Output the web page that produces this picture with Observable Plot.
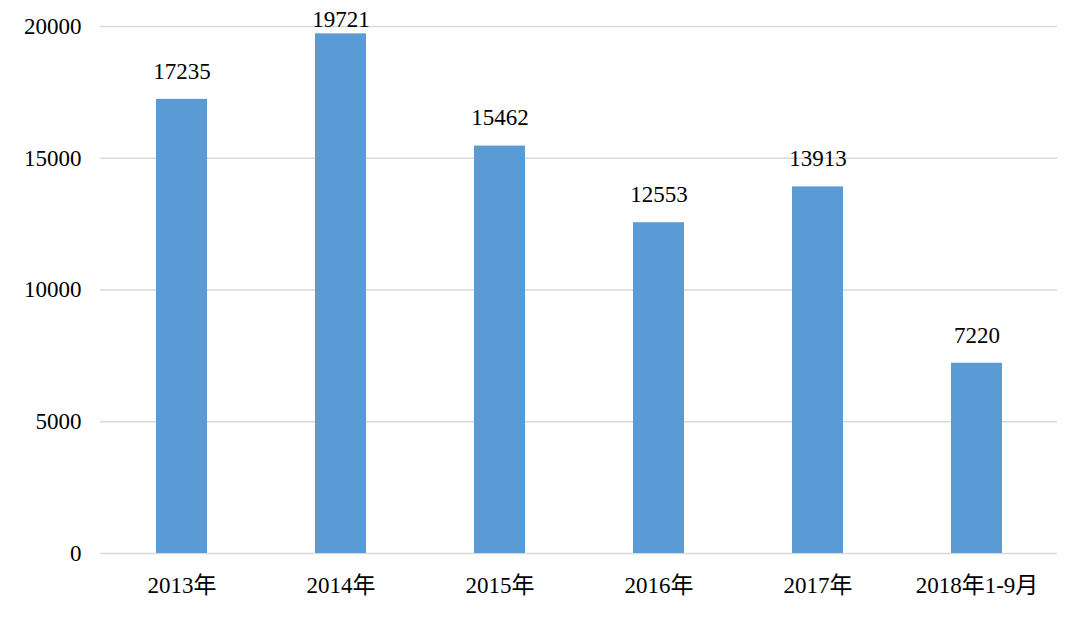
<!DOCTYPE html>
<html>
<head>
<meta charset="utf-8">
<script src="https://cdn.jsdelivr.net/npm/d3@7"></script>
<script src="https://cdn.jsdelivr.net/npm/@observablehq/plot@0.6"></script>
<style>
  html, body { margin: 0; padding: 0; background: #fff; }
  #chart { width: 1080px; height: 617px; }
  #chart svg, #chart svg text { font-family: "Liberation Serif", "Noto Sans CJK SC", serif !important; }
</style>
</head>
<body>
<div id="chart"></div>
<script>
const categories = ["2013年", "2014年", "2015年", "2016年", "2017年", "2018年1-9月"];
const values = [17235, 19721, 15462, 12553, 13913, 7220];
const yTicks = [0, 5000, 10000, 15000, 20000];
const yMax = 20000;

const data = categories.map((c, i) => ({category: c, value: values[i]}));
const font = "Liberation Serif";
const fs = 23;
// labels that would overflow the top of the plot area are pulled down inside it
const isNearTop = d => d.value > yMax * 0.97;

const chart = Plot.plot({
  width: 1080,
  height: 617,
  marginTop: 26,
  marginBottom: 64,
  marginLeft: 100,
  marginRight: 23,
  style: {fontFamily: font, fontSize: fs + "px", color: "#000", background: "#fff"},
  x: {domain: categories, paddingInner: 0.68, paddingOuter: 0.34, label: null},
  y: {domain: [0, yMax], label: null},
  marks: [
    Plot.gridY(yTicks, {stroke: "#d9d9d9", strokeOpacity: 1, strokeWidth: 1.5}),
    Plot.barY(data, {x: "category", y: "value", fill: "#5b9bd5"}),
    Plot.text(data.filter(d => !isNearTop(d)), {x: "category", y: "value", text: d => String(d.value), dy: -28, fontSize: fs, fill: "#000", fontFamily: font}),
    Plot.text(data.filter(isNearTop), {x: "category", y: "value", text: d => String(d.value), dy: -14, fontSize: fs, fill: "#000", fontFamily: font}),
    Plot.axisX({tickSize: 0, tickPadding: 23, fontSize: fs, label: null, fontFamily: font}),
    Plot.axisY(yTicks, {tickSize: 0, tickPadding: 19, fontSize: fs, label: null, fontFamily: font, tickFormat: d => String(d)})
  ]
});
document.getElementById("chart").appendChild(chart);
</script>
</body>
</html>
